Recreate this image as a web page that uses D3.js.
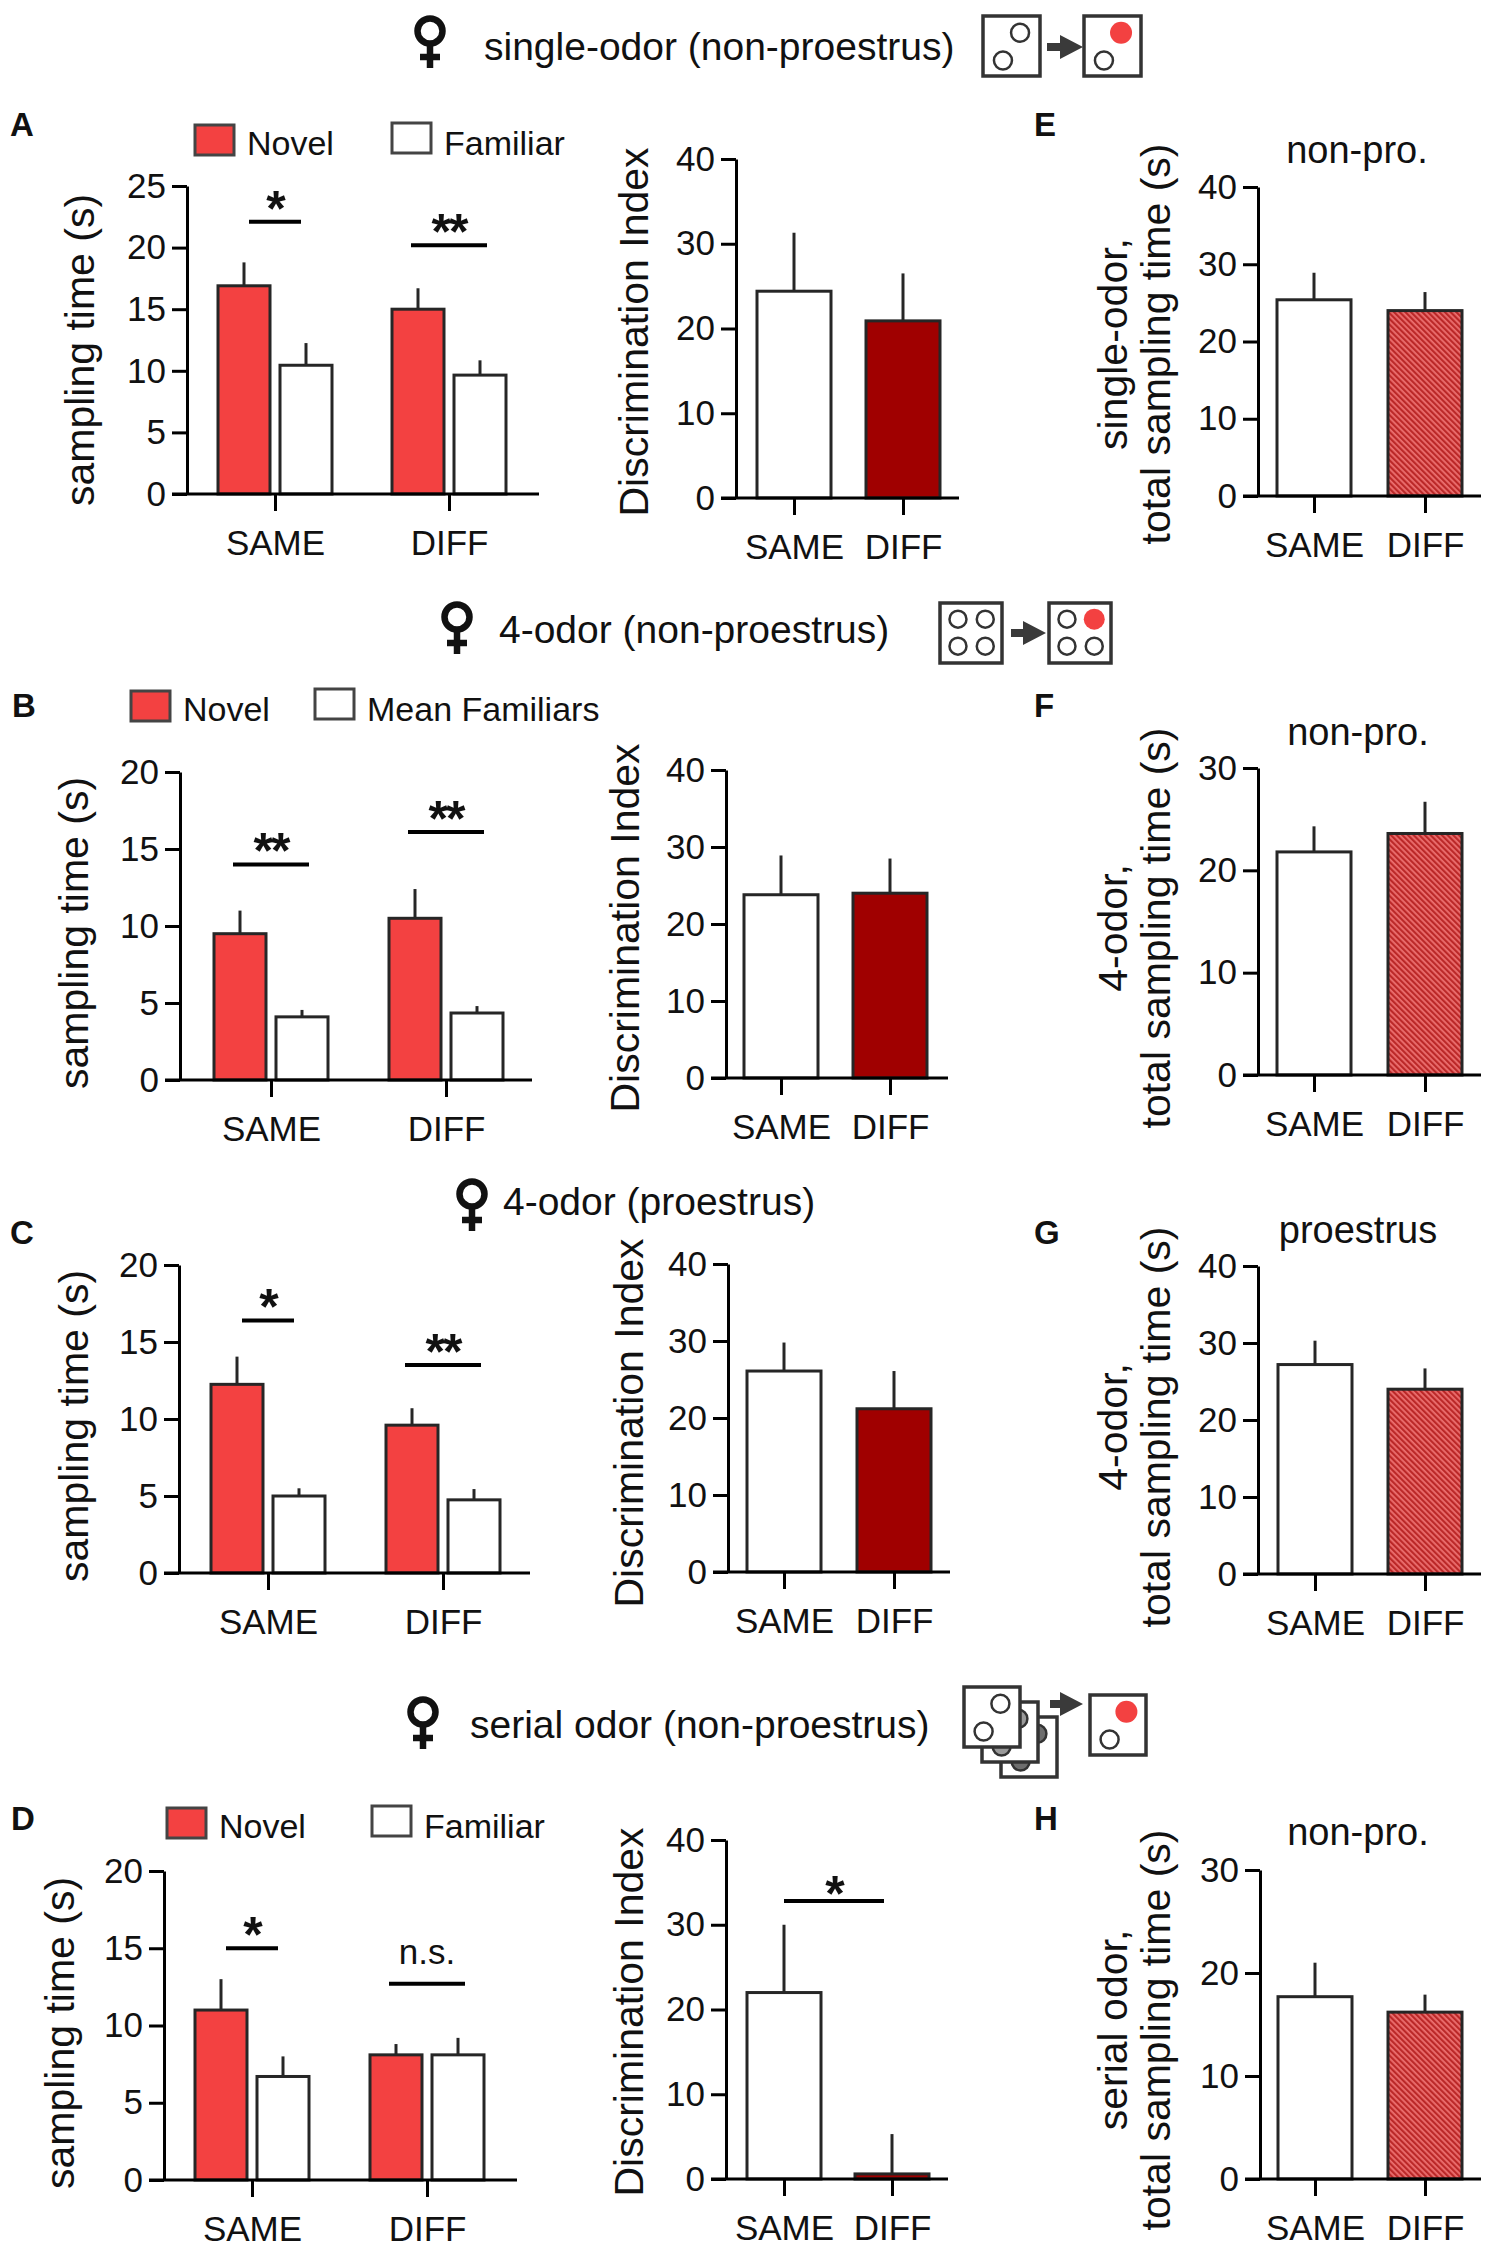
<!DOCTYPE html>
<html>
<head>
<meta charset="utf-8">
<script src="https://cdn.jsdelivr.net/npm/d3@7"></script>
<style>
  body { margin: 0; background: #fff; }
  svg text { font-family: "Liberation Sans", Arial, sans-serif; fill: #111; }
</style>
</head>
<body>
<div id="fig"></div>
<script>
// ---- data ----
var groups = ["SAME", "DIFF"];

var ticks25 = [0, 5, 10, 15, 20, 25];
var ticks20 = [0, 5, 10, 15, 20];
var ticks40 = [0, 10, 20, 30, 40];
var ticks30 = [0, 10, 20, 30];

// A / E : single-odor (non-proestrus)
var aNovel = [16.9, 15.0], aNovelSem = [1.9, 1.7];
var aFam = [10.45, 9.65], aFamSem = [1.8, 1.2];
var aSig = ["*", "**"], aSigY = [22.1, 20.2];
var aDI = [24.4, 20.9], aDISem = [6.9, 5.6];
var eTotal = [25.4, 24.0], eTotalSem = [3.5, 2.4];

// B / F : 4-odor (non-proestrus)
var bNovel = [9.5, 10.5], bNovelSem = [1.5, 1.9];
var bFam = [4.1, 4.35], bFamSem = [0.45, 0.45];
var bSig = ["**", "**"], bSigY = [14.0, 16.1];
var bDI = [23.8, 24.0], bDISem = [5.1, 4.5];
var fTotal = [21.8, 23.6], fTotalSem = [2.5, 3.1];

// C / G : 4-odor (proestrus)
var cNovel = [12.25, 9.6], cNovelSem = [1.8, 1.1];
var cFam = [5.0, 4.75], cFamSem = [0.5, 0.7];
var cSig = ["*", "**"], cSigY = [16.4, 13.5];
var cDI = [26.1, 21.2], cDISem = [3.7, 4.9];
var gTotal = [27.2, 24.0], gTotalSem = [3.1, 2.7];

// D / H : serial odor (non-proestrus)
var dNovel = [11.0, 8.1], dNovelSem = [2.0, 0.7];
var dFam = [6.7, 8.1], dFamSem = [1.3, 1.1];
var dSig = ["*", "n.s."], dSigY = [15.0, 12.7];
var dDI = [22.0, 0.6], dDISem = [8.0, 4.7];
var dDISig = "*", dDISigY = 32.8;
var hTotal = [17.7, 16.2], hTotalSem = [3.3, 1.7];

// ---- colours ----
var RED = "#f34141", DARKRED = "#a00000", EDGE = "#262626";

var svg = d3.select("#fig").append("svg")
    .attr("width", 1489).attr("height", 2260);

var defs = svg.append("defs");
var pat = defs.append("pattern").attr("id", "hatch")
    .attr("width", 4).attr("height", 4)
    .attr("patternUnits", "userSpaceOnUse")
    .attr("patternTransform", "rotate(-45)");
pat.append("rect").attr("width", 4).attr("height", 4).attr("fill", "#ec7070");
pat.append("rect").attr("width", 2.2).attr("height", 4).attr("fill", "#bb2828");

// draws one bar panel: axes, bars, error bars, significance marks
function barPanel(p) {
    var y = d3.scaleLinear().domain([0, p.max]).range([p.y0, p.yTop]);
    var x = d3.scalePoint().domain(groups).range(p.cats);
    var g = svg.append("g");

    p.series.forEach(function(s) {
        var rows = groups.map(function(k, i) { return {k: k, v: s.values[i], e: s.sems[i]}; });
        // error bars (upper only)
        g.selectAll(null).data(rows).enter().append("line")
            .attr("x1", function(d) { return x(d.k) + s.dx; })
            .attr("x2", function(d) { return x(d.k) + s.dx; })
            .attr("y1", function(d) { return y(d.v); })
            .attr("y2", function(d) { return y(d.v + d.e); })
            .attr("stroke", EDGE).attr("stroke-width", 3);
        g.selectAll(null).data(rows).enter().append("rect")
            .attr("x", function(d) { return x(d.k) + s.dx - p.barW / 2; })
            .attr("y", function(d) { return y(d.v); })
            .attr("width", p.barW)
            .attr("height", function(d) { return p.y0 - y(d.v); })
            .attr("fill", function(d, i) { return s.fills[i]; })
            .attr("stroke", EDGE).attr("stroke-width", 3);
    });

    // y axis
    var ya = g.append("g").attr("transform", "translate(" + p.axisX + ",0)")
        .call(d3.axisLeft(y).tickValues(p.ticks).tickSize(15).tickSizeOuter(0).tickPadding(6));
    ya.selectAll("path, line").attr("stroke", "#000").attr("stroke-width", 3);
    ya.selectAll("text").attr("font-size", 35).attr("fill", "#111");

    // x axis
    var xa = g.append("g").attr("transform", "translate(0," + p.y0 + ")")
        .call(d3.axisBottom(x).tickSize(17).tickSizeOuter(0).tickPadding(19));
    xa.select(".domain").remove();
    xa.append("line").attr("x1", p.axisX - 15).attr("x2", p.xEnd)
        .attr("stroke", "#000").attr("stroke-width", 3.5);
    xa.selectAll("line").attr("stroke", "#000").attr("stroke-width", 3);
    xa.selectAll("text").attr("font-size", 35).attr("fill", "#111");

    // y title (one or two lines)
    p.ylabel.forEach(function(t, i) {
        g.append("text")
            .attr("transform", "translate(" + p.ylabelX[i] + "," + p.ylabelY + ") rotate(-90)")
            .attr("text-anchor", "middle")
            .attr("font-size", 41)
            .text(t);
    });

    // significance per group
    if (p.sig) {
        p.sig.forEach(function(t, i) {
            var cx = x(groups[i]), ly = y(p.sigY[i]);
            var half = t === "*" ? 26 : 38;
            g.append("line").attr("x1", cx - half).attr("x2", cx + half)
                .attr("y1", ly).attr("y2", ly).attr("stroke", "#000").attr("stroke-width", 4);
            sigText(g, t, cx, ly);
        });
    }
    // significance between groups
    if (p.pairSig) {
        var ly = y(p.pairSigY);
        var x1 = x(groups[0]), x2 = x(groups[1]) - 8;
        g.append("line").attr("x1", x1).attr("x2", x2).attr("y1", ly).attr("y2", ly)
            .attr("stroke", "#000").attr("stroke-width", 4);
        sigText(g, p.pairSig, (x1 + x2) / 2, ly + 6);
    }
    return g;
}

function sigText(g, t, cx, ly) {
    if (t === "n.s.") {
        g.append("text").attr("x", cx).attr("y", ly - 20).attr("text-anchor", "middle")
            .attr("font-size", 35).text(t);
    } else {
        g.append("text").attr("x", cx).attr("y", ly + 4).attr("text-anchor", "middle")
            .attr("font-size", 50).attr("font-weight", "bold").attr("letter-spacing", -2).text(t);
    }
}

function txt(x, y, t, size, opts) {
    var el = svg.append("text").attr("x", x).attr("y", y).attr("font-size", size).text(t);
    if (opts && opts.bold) el.attr("font-weight", "bold");
    if (opts && opts.anchor) el.attr("text-anchor", opts.anchor);
    return el;
}

function legend(x1, x2, y, label1, label2) {
    svg.append("rect").attr("x", x1).attr("y", y).attr("width", 39).attr("height", 30)
        .attr("fill", RED).attr("stroke", "#444").attr("stroke-width", 3);
    txt(x1 + 52, y + 30, label1, 34);
    svg.append("rect").attr("x", x2).attr("y", y - 2).attr("width", 39).attr("height", 30)
        .attr("fill", "#fff").attr("stroke", "#444").attr("stroke-width", 3);
    txt(x2 + 52, y + 30, label2, 34);
}

function female(cx, top) {
    var g = svg.append("g").attr("stroke", "#111").attr("stroke-width", 6.5).attr("fill", "none");
    g.append("circle").attr("cx", cx).attr("cy", top + 16).attr("r", 12.5);
    g.append("line").attr("x1", cx).attr("x2", cx).attr("y1", top + 29).attr("y2", top + 53);
    g.append("line").attr("x1", cx - 10).attr("x2", cx + 10).attr("y1", top + 42).attr("y2", top + 42);
}

// odour box icon: spots given as fractions of the box
function odorBox(x, y, w, h, spots, r) {
    var g = svg.append("g");
    g.append("rect").attr("x", x).attr("y", y).attr("width", w).attr("height", h)
        .attr("fill", "#fff").attr("stroke", "#333").attr("stroke-width", 3.5);
    spots.forEach(function(s) {
        var c = g.append("circle").attr("cx", x + s[0] * w).attr("cy", y + s[1] * h).attr("r", s[2] === "red" ? r + 2 : r);
        if (s[2] === "red") c.attr("fill", RED);
        else c.attr("fill", s[2] || "#fff").attr("stroke", "#333").attr("stroke-width", 2.5);
    });
}

function arrow(x, yc, len) {
    var headL = 23, shaftH = 8, headH = 24;
    var sx = x + len - headL;
    svg.append("path").attr("fill", "#3a3a3a")
        .attr("d", "M" + x + "," + (yc - shaftH / 2) + "H" + sx + "V" + (yc - headH / 2) +
            "L" + (x + len) + "," + yc + "L" + sx + "," + (yc + headH / 2) + "V" + (yc + shaftH / 2) + "H" + x + "Z");
}

var two = [[0.65, 0.28], [0.35, 0.74]];
var four = [[0.29, 0.27], [0.73, 0.27], [0.29, 0.72], [0.73, 0.72]];

// ---- row 1 : single-odor ----
female(430, 15);
txt(484, 60, "single-odor (non-proestrus)", 39);
odorBox(983, 16, 57, 60, two, 9);
arrow(1047, 47, 36);
odorBox(1084, 16, 57, 60, [[0.65, 0.28, "red"], [0.35, 0.74]], 9);

txt(10, 136, "A", 33, {bold: true});
legend(195, 392, 125, "Novel", "Familiar");
barPanel({axisX: 187, yTop: 186, y0: 494, xEnd: 539, cats: [275, 449], max: 25, ticks: ticks25, barW: 52,
    series: [{values: aNovel, sems: aNovelSem, dx: -31, fills: [RED, RED]},
             {values: aFam, sems: aFamSem, dx: 31, fills: ["#fff", "#fff"]}],
    sig: aSig, sigY: aSigY, ylabel: ["sampling time (s)"], ylabelX: [94], ylabelY: 350});
barPanel({axisX: 736, yTop: 159, y0: 498, xEnd: 959, cats: [794, 903], max: 40, ticks: ticks40, barW: 74,
    series: [{values: aDI, sems: aDISem, dx: 0, fills: ["#fff", DARKRED]}],
    ylabel: ["Discrimination Index"], ylabelX: [648], ylabelY: 332});
txt(1034, 136, "E", 33, {bold: true});
txt(1357, 163, "non-pro.", 38, {anchor: "middle"});
barPanel({axisX: 1258, yTop: 187, y0: 496, xEnd: 1481, cats: [1314, 1425], max: 40, ticks: ticks40, barW: 74,
    series: [{values: eTotal, sems: eTotalSem, dx: 0, fills: ["#fff", "url(#hatch)"]}],
    ylabel: ["single-odor,", "total sampling time (s)"], ylabelX: [1127, 1170], ylabelY: 344});

// ---- row 2 : 4-odor non-proestrus ----
female(457, 601);
txt(499, 643, "4-odor (non-proestrus)", 39);
odorBox(940, 603, 62, 60, four, 8.5);
arrow(1011, 633, 35);
odorBox(1049, 603, 62, 60, [[0.29, 0.27], [0.73, 0.27, "red"], [0.29, 0.72], [0.73, 0.72]], 8.5);

txt(12, 717, "B", 33, {bold: true});
legend(131, 315, 691, "Novel", "Mean Familiars");
barPanel({axisX: 180, yTop: 772, y0: 1080, xEnd: 532, cats: [271, 446], max: 20, ticks: ticks20, barW: 52,
    series: [{values: bNovel, sems: bNovelSem, dx: -31, fills: [RED, RED]},
             {values: bFam, sems: bFamSem, dx: 31, fills: ["#fff", "#fff"]}],
    sig: bSig, sigY: bSigY, ylabel: ["sampling time (s)"], ylabelX: [88], ylabelY: 933});
barPanel({axisX: 726, yTop: 770, y0: 1078, xEnd: 948, cats: [781, 890], max: 40, ticks: ticks40, barW: 74,
    series: [{values: bDI, sems: bDISem, dx: 0, fills: ["#fff", DARKRED]}],
    ylabel: ["Discrimination Index"], ylabelX: [639], ylabelY: 928});
txt(1034, 717, "F", 33, {bold: true});
txt(1358, 745, "non-pro.", 38, {anchor: "middle"});
barPanel({axisX: 1258, yTop: 768, y0: 1075, xEnd: 1481, cats: [1314, 1425], max: 30, ticks: ticks30, barW: 74,
    series: [{values: fTotal, sems: fTotalSem, dx: 0, fills: ["#fff", "url(#hatch)"]}],
    ylabel: ["4-odor,", "total sampling time (s)"], ylabelX: [1127, 1170], ylabelY: 928});

// ---- row 3 : 4-odor proestrus ----
female(472, 1178);
txt(503, 1215, "4-odor (proestrus)", 39);

txt(10, 1244, "C", 33, {bold: true});
barPanel({axisX: 179, yTop: 1265, y0: 1573, xEnd: 530, cats: [268, 443], max: 20, ticks: ticks20, barW: 52,
    series: [{values: cNovel, sems: cNovelSem, dx: -31, fills: [RED, RED]},
             {values: cFam, sems: cFamSem, dx: 31, fills: ["#fff", "#fff"]}],
    sig: cSig, sigY: cSigY, ylabel: ["sampling time (s)"], ylabelX: [88], ylabelY: 1426});
barPanel({axisX: 728, yTop: 1264, y0: 1572, xEnd: 950, cats: [784, 894], max: 40, ticks: ticks40, barW: 74,
    series: [{values: cDI, sems: cDISem, dx: 0, fills: ["#fff", DARKRED]}],
    ylabel: ["Discrimination Index"], ylabelX: [643], ylabelY: 1423});
txt(1034, 1244, "G", 33, {bold: true});
txt(1358, 1243, "proestrus", 38, {anchor: "middle"});
barPanel({axisX: 1258, yTop: 1266, y0: 1574, xEnd: 1481, cats: [1315, 1425], max: 40, ticks: ticks40, barW: 74,
    series: [{values: gTotal, sems: gTotalSem, dx: 0, fills: ["#fff", "url(#hatch)"]}],
    ylabel: ["4-odor,", "total sampling time (s)"], ylabelX: [1127, 1170], ylabelY: 1427});

// ---- row 4 : serial odor ----
female(423, 1696);
txt(470, 1738, "serial odor (non-proestrus)", 39);
odorBox(1001, 1717, 56, 60, [[0.65, 0.28, "#6e6e6e"], [0.35, 0.74, "#6e6e6e"]], 9);
odorBox(982, 1702, 56, 60, [[0.65, 0.28, "#9a9a9a"], [0.35, 0.74, "#9a9a9a"]], 9);
odorBox(964, 1687, 56, 60, two, 9);
arrow(1050, 1704, 33);
odorBox(1090, 1695, 56, 60, [[0.65, 0.28, "red"], [0.35, 0.74]], 9);

txt(11, 1830, "D", 33, {bold: true});
legend(167, 372, 1808, "Novel", "Familiar");
barPanel({axisX: 164, yTop: 1871, y0: 2180, xEnd: 517, cats: [252, 427], max: 20, ticks: ticks20, barW: 52,
    series: [{values: dNovel, sems: dNovelSem, dx: -31, fills: [RED, RED]},
             {values: dFam, sems: dFamSem, dx: 31, fills: ["#fff", "#fff"]}],
    sig: dSig, sigY: dSigY, ylabel: ["sampling time (s)"], ylabelX: [74], ylabelY: 2033});
barPanel({axisX: 726, yTop: 1840, y0: 2179, xEnd: 948, cats: [784, 892], max: 40, ticks: ticks40, barW: 74,
    series: [{values: dDI, sems: dDISem, dx: 0, fills: ["#fff", DARKRED]}],
    pairSig: dDISig, pairSigY: dDISigY,
    ylabel: ["Discrimination Index"], ylabelX: [643], ylabelY: 2012});
txt(1034, 1830, "H", 33, {bold: true});
txt(1358, 1845, "non-pro.", 38, {anchor: "middle"});
barPanel({axisX: 1260, yTop: 1870, y0: 2179, xEnd: 1481, cats: [1315, 1425], max: 30, ticks: ticks30, barW: 74,
    series: [{values: hTotal, sems: hTotalSem, dx: 0, fills: ["#fff", "url(#hatch)"]}],
    ylabel: ["serial odor,", "total sampling time (s)"], ylabelX: [1127, 1170], ylabelY: 2030});
</script>
</body>
</html>
